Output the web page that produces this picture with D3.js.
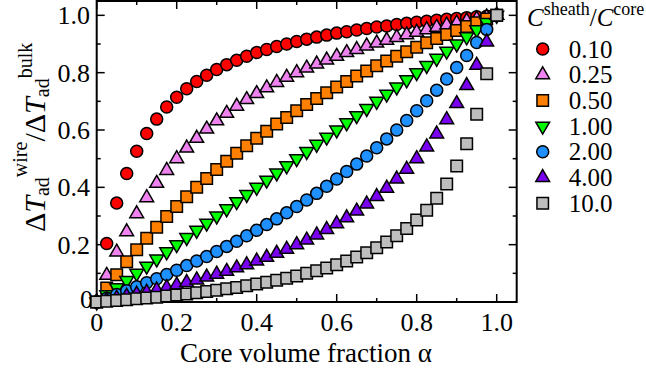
<!DOCTYPE html>
<html>
<head>
<meta charset="utf-8">
<script src="https://cdn.jsdelivr.net/npm/d3@7"></script>
<style>
  body { margin: 0; background: #fff; }
  svg text { font-family: "Liberation Serif", "Times New Roman", serif; fill: #000; }
</style>
</head>
<body>
<div id="chart"></div>
<script>
// core volume fraction
var alpha = [0, 0.025, 0.05, 0.075, 0.1, 0.125, 0.15, 0.175, 0.2, 0.225, 0.25, 0.275, 0.3, 0.325, 0.35, 0.375,
    0.4, 0.425, 0.45, 0.475, 0.5, 0.525, 0.55, 0.575, 0.6, 0.625, 0.65, 0.675, 0.7, 0.725, 0.75, 0.775,
    0.8, 0.825, 0.85, 0.875, 0.9, 0.925, 0.95, 0.975, 1];

var seriesNames = ["0.10", "0.25", "0.50", "1.00", "2.00", "4.00", "10.0"];

var r010 = [0, .204, .345, .448, .526, .588, .638, .680, .714, .744, .769, .791, .811, .828, .843, .857, .870, .881, .891, .900,
    .909, .917, .924, .931, .938, .943, .949, .954, .959, .963, .968, .972, .976, .979, .983, .986, .989, .992, .995, .997, 1];
var r025 = [0, .093, .174, .245, .308, .364, .414, .459, .500, .537, .571, .603, .632, .658, .683, .706, .727, .747, .766, .784,
    .800, .816, .830, .844, .857, .870, .881, .893, .903, .913, .923, .932, .941, .950, .958, .966, .973, .980, .987, .994, 1];
var r050 = [0, .049, .095, .140, .182, .222, .261, .298, .333, .367, .400, .431, .462, .491, .519, .545, .571, .596, .621, .644,
    .667, .689, .710, .730, .750, .769, .788, .806, .824, .841, .857, .873, .889, .904, .919, .933, .947, .961, .974, .987, 1];
var r100 = [0, .025, .05, .075, .1, .125, .15, .175, .2, .225, .25, .275, .3, .325, .35, .375, .4, .425, .45, .475,
    .5, .525, .55, .575, .6, .625, .65, .675, .7, .725, .75, .775, .8, .825, .85, .875, .9, .925, .95, .975, 1];
var r200 = [0, .013, .026, .039, .053, .067, .081, .096, .111, .127, .143, .159, .176, .194, .212, .231, .250, .270, .290, .311,
    .333, .356, .379, .404, .429, .455, .481, .509, .538, .569, .600, .633, .667, .702, .739, .778, .818, .860, .905, .951, 1];
var r400 = [0, .006, .013, .020, .027, .034, .042, .050, .059, .068, .077, .087, .097, .107, .119, .130, .143, .156, .170, .184,
    .200, .216, .234, .253, .273, .294, .317, .342, .368, .397, .429, .463, .500, .541, .586, .636, .692, .755, .826, .907, 1];
var r1000 = [0, .003, .005, .008, .011, .014, .017, .021, .024, .028, .032, .037, .041, .046, .051, .057, .063, .069, .076, .083,
    .091, .100, .109, .119, .130, .143, .157, .172, .189, .209, .231, .256, .286, .320, .362, .412, .474, .552, .655, .796, 1];

var xTicks = [0, 0.2, 0.4, 0.6, 0.8, 1.0];
var yTicks = [0, 0.2, 0.4, 0.6, 0.8, 1.0];
var minorTicks = [0.1, 0.3, 0.5, 0.7, 0.9];

var values = [r010, r025, r050, r100, r200, r400, r1000];
var colors = ["#ff0000", "#ee82ee", "#ff8000", "#00ff00", "#1e90ff", "#7a00f0", "#bebebe"];
var shapes = ["circle", "triangle", "square", "down", "circle", "triangle", "square"];

var W = 646, H = 372;
var svg = d3.select("#chart").append("svg")
    .attr("width", W)
    .attr("height", H);

var xScale = d3.scaleLinear().domain([0, 1.05]).range([96.7, 516.7]);
var yScale = d3.scaleLinear().domain([0, 1.05]).range([302, 1]);

var x0 = xScale(0), x1 = xScale(1.05), y0 = yScale(0), y1 = yScale(1.05);

// inward ticks on all four sides
var ticks = svg.append("g").attr("stroke", "#000").attr("stroke-width", 1.5);
function addTicks(list, len) {
    list.forEach(function(t) {
        var px = xScale(t), py = yScale(t);
        ticks.append("line").attr("x1", px).attr("x2", px).attr("y1", y0).attr("y2", y0 - len);
        ticks.append("line").attr("x1", px).attr("x2", px).attr("y1", y1).attr("y2", y1 + len);
        ticks.append("line").attr("y1", py).attr("y2", py).attr("x1", x0).attr("x2", x0 + len);
        ticks.append("line").attr("y1", py).attr("y2", py).attr("x1", x1).attr("x2", x1 - len);
    });
}
addTicks(xTicks, 8);
addTicks(minorTicks, 4);

svg.append("rect")
    .attr("x", x0).attr("y", y1)
    .attr("width", x1 - x0).attr("height", y0 - y1)
    .attr("fill", "none").attr("stroke", "#000").attr("stroke-width", 2);

var fmt = function(d) { return d === 0 ? "0" : d3.format(".1f")(d); };

svg.append("g").selectAll("text")
    .data(xTicks).enter().append("text")
    .attr("x", function(d) { return xScale(d); })
    .attr("y", 331)
    .attr("text-anchor", "middle")
    .style("font-size", "26px")
    .text(fmt);

svg.append("g").selectAll("text")
    .data(yTicks).enter().append("text")
    .attr("x", function(d) { return d === 0 ? 93 : 90; })
    .attr("y", function(d) { return yScale(d) - (d === 0 ? 3 : 0); })
    .attr("dy", "0.34em")
    .attr("text-anchor", "end")
    .style("font-size", "26px")
    .text(fmt);

// axis titles
svg.append("text")
    .attr("x", 306)
    .attr("y", 362)
    .attr("text-anchor", "middle")
    .style("font-size", "27px")
    .text("Core volume fraction \u03b1");

var yt = svg.append("text")
    .attr("transform", "translate(45,232) rotate(-90)")
    .style("font-size", "30px");
yt.append("tspan").text("\u0394");
yt.append("tspan").style("font-style", "italic").text("T");
yt.append("tspan").attr("dy", 4).style("font-size", "20px").text("ad");
yt.append("tspan").attr("dy", -22).style("font-size", "20px").text("wire");
yt.append("tspan").attr("dy", 18).text("/\u0394");
yt.append("tspan").style("font-style", "italic").text("T");
yt.append("tspan").attr("dy", 4).style("font-size", "20px").text("ad");
yt.append("tspan").attr("dy", -17).style("font-size", "20px").text("bulk");

function markerPath(shape, scale) {
    var k = scale || 1;
    if (shape === "circle") return d3.symbol(d3.symbolCircle, Math.PI * 6 * 6 * k * k)();
    if (shape === "square") return d3.symbol(d3.symbolSquare, 11.5 * 11.5 * k * k)();
    return d3.symbol(d3.symbolTriangle, 82 * k * k)();
}

values.forEach(function(vals, i) {
    var pts = alpha.map(function(a, j) { return {a: a, v: vals[j]}; });
    svg.append("g").selectAll("path")
        .data(pts).enter().append("path")
        .attr("d", markerPath(shapes[i]))
        .attr("transform", function(d) {
            return "translate(" + xScale(d.a) + "," + yScale(d.v) + ")" + (shapes[i] === "down" ? " rotate(180)" : "");
        })
        .attr("fill", colors[i])
        .attr("stroke", "#000")
        .attr("stroke-width", 1.5);
});

// legend
var lh = svg.append("text")
    .attr("x", 527)
    .attr("y", 26)
    .style("font-size", "25px");
lh.append("tspan").style("font-style", "italic").text("C");
lh.append("tspan").attr("dy", -11).style("font-size", "18px").text("sheath");
lh.append("tspan").attr("dy", 11).text("/");
lh.append("tspan").style("font-style", "italic").text("C");
lh.append("tspan").attr("dy", -11).style("font-size", "18px").text("core");

var legend = svg.append("g").selectAll("g")
    .data(seriesNames).enter().append("g")
    .attr("transform", function(d, i) { return "translate(542.7," + (49 + i * 25.7) + ")"; });

legend.append("path")
    .attr("d", function(d, i) { return markerPath(shapes[i]); })
    .attr("transform", function(d, i) { return shapes[i] === "down" ? "rotate(180)" : null; })
    .attr("fill", function(d, i) { return colors[i]; })
    .attr("stroke", "#000")
    .attr("stroke-width", 1.5);

legend.append("text")
    .attr("x", 26)
    .attr("y", 8.5)
    .style("font-size", "25px")
    .text(function(d) { return d; });
</script>
</body>
</html>
